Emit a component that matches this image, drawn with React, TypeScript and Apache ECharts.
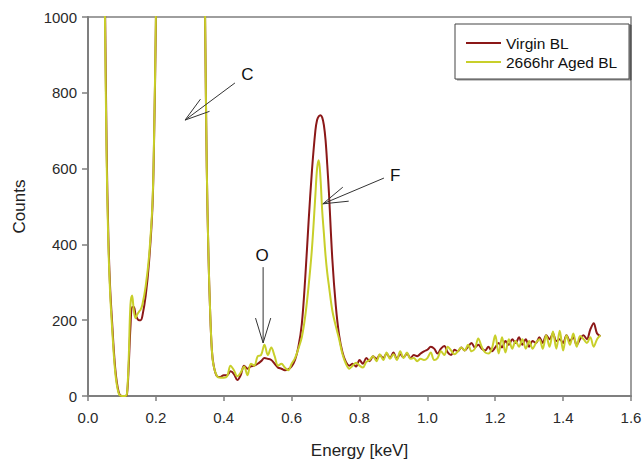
import React, { useEffect, useRef } from "react";
import * as echarts from "echarts";

const FONT = "'Liberation Sans', Arial, sans-serif";

const seriesNames = ["Virgin BL", "2666hr Aged BL"];
const seriesColors = ["#8b1818", "#c8cf2a"];

const xTicks = [0, 0.2, 0.4, 0.6, 0.8, 1.0, 1.2, 1.4, 1.6];
const yTicks = [0, 200, 400, 600, 800, 1000];

const energy = [
  0.03, 0.045, 0.05, 0.055, 0.06, 0.065, 0.07, 0.08, 0.09, 0.1, 0.11, 0.115, 0.12, 0.125, 0.13, 0.135, 0.14, 0.145, 0.15, 0.155,
  0.16, 0.17, 0.18, 0.19, 0.195, 0.2, 0.21, 0.23, 0.27, 0.31, 0.33, 0.34, 0.345, 0.35, 0.355, 0.36, 0.365, 0.37, 0.38, 0.39,
  0.4, 0.41, 0.42, 0.43, 0.44, 0.45, 0.46, 0.47, 0.48, 0.49, 0.5, 0.51, 0.52, 0.53, 0.54, 0.55, 0.56, 0.57, 0.58, 0.59, 0.6,
  0.61, 0.62, 0.63, 0.64, 0.65, 0.66, 0.67, 0.675, 0.68, 0.685, 0.69, 0.695, 0.7, 0.705, 0.71, 0.72, 0.73, 0.74, 0.75, 0.76,
  0.77, 0.78, 0.79, 0.8, 0.81, 0.82, 0.83, 0.84, 0.85, 0.86, 0.87, 0.88, 0.89, 0.9, 0.91, 0.92, 0.93, 0.94, 0.95, 0.96,
  0.97, 0.98, 0.99, 1.0, 1.01, 1.02, 1.03, 1.04, 1.05, 1.06, 1.07, 1.08, 1.09, 1.1, 1.11, 1.12, 1.13, 1.14, 1.15, 1.16,
  1.17, 1.18, 1.19, 1.2, 1.21, 1.22, 1.23, 1.24, 1.25, 1.26, 1.27, 1.28, 1.29, 1.3, 1.31, 1.32, 1.33, 1.34, 1.35, 1.36,
  1.37, 1.38, 1.39, 1.4, 1.41, 1.42, 1.43, 1.44, 1.45, 1.46, 1.47, 1.48, 1.49, 1.5, 1.51,
];

const virginCounts = [
  3000, 1500, 1050, 650, 420, 290, 210, 75, 12, 0, 0, 5, 80, 180, 235, 235, 215, 205, 200, 200,
  210, 265, 355, 500, 690, 980, 1700, 2600, 3000, 2600, 1900, 1500, 1000, 600, 370, 220, 121, 82, 52, 50,
  55, 55, 65, 58, 42, 55, 80, 72, 78, 80, 85, 92, 100, 98, 95, 85, 75, 72, 68, 70, 78,
  95, 130, 190, 310, 460, 596, 700, 728, 738, 741, 735, 715, 675, 610, 535, 360, 240, 160, 115, 90,
  80, 85, 78, 95, 85, 100, 92, 105, 98, 108, 100, 112, 100, 115, 98, 110, 102, 112, 100, 108,
  105, 112, 118, 122, 130, 125, 112, 125, 132, 115, 108, 122, 118, 128, 120, 130, 140, 128, 135, 125,
  120, 130, 118, 128, 140, 128, 145, 135, 150, 140, 155, 135, 150, 130, 145, 140, 155, 140, 160, 150,
  165, 145, 150, 140, 160, 145, 155, 135, 150, 160, 150, 175, 192, 165, 158,
];

const agedCounts = [
  3000, 1450, 1000, 620, 400, 275, 195, 65, 8, 0, 0, 8, 100, 240, 265, 225, 205, 215, 222, 228,
  240, 290, 370, 510, 700, 1000, 1800, 2700, 3000, 2700, 1900, 1500, 1000, 600, 370, 220, 121, 80, 52, 48,
  48, 52, 80, 68, 52, 62, 78, 55, 85, 80, 105, 108, 135, 108, 128, 105, 80, 85, 75, 68, 85,
  100, 125, 155, 210, 290, 390, 530, 600, 622, 575, 490, 430, 370, 325, 290, 225, 185, 150, 110, 85,
  72, 80, 88, 80, 75, 90, 95, 105, 92, 110, 95, 115, 98, 110, 95, 118, 100, 115, 98, 100,
  92, 98, 95, 100, 115, 95, 100, 118, 108, 130, 120, 110, 118, 128, 120, 135, 118, 125, 152, 130,
  115, 112, 125, 160, 112, 155, 115, 150, 125, 145, 130, 150, 125, 145, 125, 140, 150, 125, 160, 130,
  170, 125, 172, 120, 160, 135, 165, 130, 158, 150, 140, 155, 130, 150, 160,
];

const annotationLabels = ["C", "F", "O"];
const annotationLabelPos = [
  [0.47, 847],
  [0.905, 583],
  [0.513, 371],
];
const annotationTail = [
  [0.433, 826],
  [0.872, 575],
  [0.516, 340],
];
const annotationTip = [
  [0.286, 728],
  [0.692, 507],
  [0.516, 140],
];

export default function App() {
  const ref = useRef<HTMLDivElement>(null);

  useEffect(() => {
    if (!ref.current) return;
    const chart = echarts.init(ref.current, undefined, { renderer: "svg" });
    const axisColor = "#7f7f7f";
    const option: any = {
      animation: false,
      backgroundColor: "#ffffff",
      textStyle: { fontFamily: FONT },
      grid: {
        left: 88,
        right: 11,
        top: 17,
        bottom: 63,
        outerBoundsMode: "none",
        containLabel: false,
        show: true,
        borderColor: axisColor,
        borderWidth: 1.5,
      },
      legend: {
        left: 455,
        top: 24,
        orient: "vertical",
        data: seriesNames,
        itemWidth: 35,
        itemHeight: 16,
        itemGap: 3,
        padding: [11, 11, 9, 10],
        borderColor: "#444",
        borderWidth: 1,
        backgroundColor: "#fff",
        shadowColor: "rgba(0,0,0,0.45)",
        shadowOffsetX: 2,
        shadowOffsetY: 1,
        shadowBlur: 1,
        itemStyle: { opacity: 0 },
        lineStyle: { width: 2 },
        textStyle: { fontSize: 15.5, lineHeight: 16, color: "#111", fontFamily: FONT },
      },
      xAxis: {
        type: "value",
        min: xTicks[0],
        max: xTicks[xTicks.length - 1],
        interval: 0.2,
        name: "Energy [keV]",
        nameLocation: "middle",
        nameGap: 46,
        nameTextStyle: { fontSize: 17, color: "#222", fontFamily: FONT },
        axisLine: { show: true, lineStyle: { color: axisColor, width: 2 } },
        axisTick: { show: true, length: 5, lineStyle: { color: axisColor, width: 1.5 } },
        axisLabel: {
          fontSize: 15,
          color: "#2a2a2a",
          margin: 14,
          fontFamily: FONT,
          formatter: (v: number) => v.toFixed(1),
        },
        splitLine: { show: false },
      },
      yAxis: {
        type: "value",
        min: yTicks[0],
        max: yTicks[yTicks.length - 1],
        interval: 200,
        name: "Counts",
        nameLocation: "middle",
        nameGap: 60,
        nameTextStyle: { fontSize: 17, color: "#222", fontFamily: FONT },
        axisLine: { show: true, lineStyle: { color: axisColor, width: 2 } },
        axisTick: { show: true, length: 6, lineStyle: { color: axisColor, width: 1.5 } },
        axisLabel: {
          fontSize: 15,
          color: "#2a2a2a",
          margin: 11,
          fontFamily: FONT,
          formatter: (v: number) => String(Math.round(v)),
        },
        splitLine: { show: false },
      },
      series: [
        {
          name: seriesNames[0],
          type: "line",
          data: energy.map((e, i) => [e, virginCounts[i]]),
          symbol: "none",
          smooth: 0.35,
          clip: true,
          lineStyle: { width: 2, color: seriesColors[0] },
          itemStyle: { color: seriesColors[0] },
          z: 2,
        },
        {
          name: seriesNames[1],
          type: "line",
          data: energy.map((e, i) => [e, agedCounts[i]]),
          symbol: "none",
          smooth: 0.35,
          clip: true,
          lineStyle: { width: 2, color: seriesColors[1] },
          itemStyle: { color: seriesColors[1] },
          z: 3,
        },
      ],
    };
    chart.setOption(option);

    const toPx = (p: number[]) => chart.convertToPixel({ gridIndex: 0 }, p) as number[];
    const elements: any[] = [];
    const headLen = 26;
    const headAng = (17 * Math.PI) / 180;
    annotationLabels.forEach((lab, i) => {
      const lp = toPx(annotationLabelPos[i]);
      const tail = toPx(annotationTail[i]);
      const tip = toPx(annotationTip[i]);
      elements.push({
        type: "text",
        x: lp[0],
        y: lp[1],
        style: {
          text: lab,
          fontSize: 17,
          fontFamily: FONT,
          fill: "#111",
          align: "center",
          verticalAlign: "middle",
        },
        z: 10,
      });
      elements.push({
        type: "line",
        shape: { x1: tail[0], y1: tail[1], x2: tip[0], y2: tip[1] },
        style: { stroke: "#333", lineWidth: 1 },
        z: 10,
      });
      const ang = Math.atan2(tail[1] - tip[1], tail[0] - tip[0]);
      [-headAng, headAng].forEach((d) => {
        elements.push({
          type: "line",
          shape: {
            x1: tip[0],
            y1: tip[1],
            x2: tip[0] + headLen * Math.cos(ang + d),
            y2: tip[1] + headLen * Math.sin(ang + d),
          },
          style: { stroke: "#333", lineWidth: 1 },
          z: 10,
        });
      });
    });
    chart.setOption({ graphic: elements });

    return () => chart.dispose();
  }, []);

  return (
    <div
      ref={ref}
      style={{ position: "fixed", left: 0, top: 0, width: 642, height: 459, background: "#fff" }}
    />
  );
}
